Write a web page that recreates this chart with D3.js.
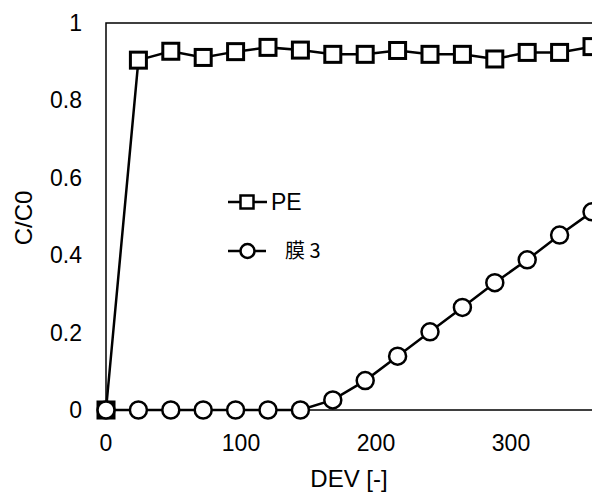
<!DOCTYPE html>
<html><head><meta charset="utf-8">
<script src="https://cdn.jsdelivr.net/npm/d3@7"></script>
<style>body{margin:0;background:#fff;}svg{display:block;}text{font-family:"Liberation Sans",Arial,sans-serif;fill:#000;}</style>
</head><body><svg id="c" width="592" height="492"></svg>
<script>
const xValues = [0,24,48,72,96,120,144,168,192,216,240,264,288,312,336,360];
const peValues = [0,0.904,0.927,0.911,0.926,0.937,0.930,0.919,0.919,0.929,0.919,0.919,0.907,0.924,0.924,0.939];
const mem3Values = [0,0,0,0,0,0,0,0.026,0.076,0.139,0.202,0.265,0.329,0.388,0.452,0.512];
const xTicks = [0,100,200,300];
const yTicks = [0,0.2,0.4,0.6,0.8,1];
const seriesNames = ["PE","膜 3"];

const svg = d3.select("#c");
const x = d3.scaleLinear().domain([0,400]).range([106,646]);
const y = d3.scaleLinear().domain([0,1]).range([410,23]);

// plot frame
svg.append("rect").attr("x",x(0)).attr("y",y(1)).attr("width",x(400)-x(0)).attr("height",y(0)-y(1))
  .attr("fill","none").attr("stroke","#000").attr("stroke-width",1.5);

// y tick labels
svg.append("g").selectAll("text").data(yTicks).join("text")
  .attr("x",82).attr("y",d=>y(d)).attr("dy","0.35em").attr("text-anchor","end")
  .attr("font-size",23).text(d=>d3.format("")(d));
// x tick labels
svg.append("g").selectAll("text").data(xTicks).join("text")
  .attr("x",d=>x(d)).attr("y",443).attr("dy","0.35em").attr("text-anchor","middle")
  .attr("font-size",23).text(d=>d);

// axis titles
svg.append("text").attr("x",349).attr("y",479).attr("dy","0.35em").attr("text-anchor","middle")
  .attr("font-size",24).text("DEV [-]");
svg.append("text").attr("transform","translate(24,218) rotate(-90)").attr("dy","0.35em")
  .attr("text-anchor","middle").attr("font-size",24).text("C/C0");

const line = d3.line().x((d,i)=>x(xValues[i])).y(d=>y(d));
const peData = peValues, memData = mem3Values;

svg.append("path").attr("d",line(peData)).attr("fill","none").attr("stroke","#000").attr("stroke-width",2.5);
svg.append("path").attr("d",line(memData)).attr("fill","none").attr("stroke","#000").attr("stroke-width",2.5);

svg.append("g").selectAll("rect").data(peData).join("rect")
  .attr("x",(d,i)=>x(xValues[i])-8).attr("y",d=>y(d)-8).attr("width",16).attr("height",16)
  .attr("fill","#fff").attr("stroke","#000").attr("stroke-width",3);
svg.append("g").selectAll("circle").data(memData).join("circle")
  .attr("cx",(d,i)=>x(xValues[i])).attr("cy",d=>y(d)).attr("r",8.5)
  .attr("fill","#fff").attr("stroke","#000").attr("stroke-width",2.5);

// legend
const lg = svg.append("g");
lg.append("line").attr("x1",228).attr("x2",267).attr("y1",202).attr("y2",202).attr("stroke","#000").attr("stroke-width",2.5);
lg.append("rect").attr("x",240.5).attr("y",195.5).attr("width",13).attr("height",13).attr("fill","#fff").attr("stroke","#000").attr("stroke-width",2.5);
lg.append("text").attr("x",271).attr("y",202).attr("dy","0.35em").attr("font-size",23).text(seriesNames[0]);
lg.append("line").attr("x1",228).attr("x2",266).attr("y1",251).attr("y2",251).attr("stroke","#000").attr("stroke-width",2.5);
lg.append("circle").attr("cx",247.5).attr("cy",251).attr("r",7).attr("fill","#fff").attr("stroke","#000").attr("stroke-width",2.5);
lg.append("text").attr("x",285).attr("y",251).attr("dy","0.35em").attr("font-size",20)
  .style("font-family","'Noto Sans CJK JP','Noto Sans CJK SC',sans-serif").text(seriesNames[1]);
</script></body></html>
